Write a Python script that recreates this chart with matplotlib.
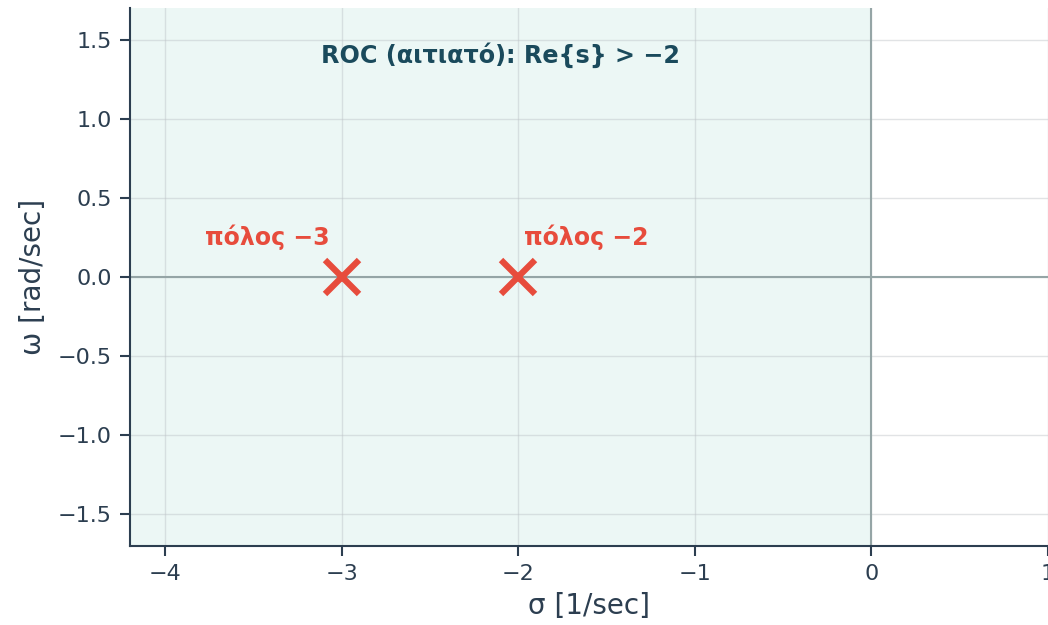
import numpy as np
import matplotlib.pyplot as plt

# poles of the transfer function (real parts, imaginary parts)
pole_re = [-3, -2]
pole_im = [0, 0]
pole_labels = ['πόλος −3', 'πόλος −2']
roc_text = 'ROC (αιτιατό): Re{s} > −2'

xticks = [-4, -3, -2, -1, 0, 1]
yticks = [-1.5, -1.0, -0.5, 0.0, 0.5, 1.0, 1.5]

dark = '#2c3e50'
red = '#e74c3c'

fig = plt.figure(figsize=(10.48, 6.25), dpi=100)
ax = fig.add_axes([0.124, 0.1264, 0.876, 0.8608])

ax.set_xlim(-4.2, 1.0)
ax.set_ylim(-1.7, 1.7)

# shaded region + axes through origin
ax.axvspan(-4.2, 0, color='#16a085', alpha=0.08, lw=0, zorder=0)
ax.axhline(0, color='#95a5a6', lw=1.5, zorder=1)
ax.axvline(0, color='#95a5a6', lw=1.5, zorder=1)
ax.grid(True, color='#bdc3c7', alpha=0.45, lw=1, zorder=0)
ax.set_axisbelow(True)

ax.plot(pole_re, pole_im, 'x', color=red, markersize=24, mew=4.5, zorder=3)
ax.text(pole_re[0] - 0.07, pole_im[0] + 0.25, pole_labels[0], color=red,
        fontsize=17, fontweight='bold', ha='right', va='center')
ax.text(pole_re[1] + 0.03, pole_im[1] + 0.25, pole_labels[1], color=red,
        fontsize=17, fontweight='bold', ha='left', va='center')

ax.text(-2.1, 1.40, roc_text, color='#1a4a5c', fontsize=17.2,
        fontweight='bold', ha='center', va='center')

ax.set_xticks(xticks)
ax.set_yticks(yticks)
ax.tick_params(colors=dark, labelsize=16, length=7, width=1.5, pad=6)
ax.set_xlabel('σ [1/sec]', fontsize=20, color=dark, labelpad=6)
ax.set_ylabel('ω [rad/sec]', fontsize=20, color=dark, labelpad=8)

for s in ['top', 'right']:
    ax.spines[s].set_visible(False)
for s in ['left', 'bottom']:
    ax.spines[s].set_color(dark)
    ax.spines[s].set_linewidth(1.5)

fig.savefig('out.png', dpi=100)
